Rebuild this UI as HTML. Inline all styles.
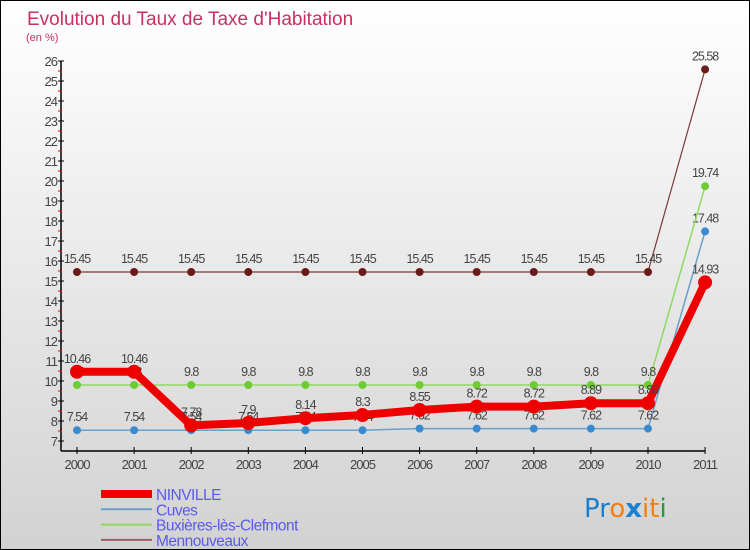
<!DOCTYPE html>
<html><head><meta charset="utf-8"><style>
html,body{margin:0;padding:0}
body{width:750px;height:550px;overflow:hidden;font-family:"Liberation Sans",sans-serif}
#wrap{position:relative;width:748px;height:548px;border:1px solid #000;background:linear-gradient(#ffffff,#d2d2d2)}
</style></head><body>
<div id="wrap">
<svg id="chart" width="748" height="548" style="position:absolute;left:0;top:0">
<text x="26" y="24" font-size="19" fill="#c8305f">Evolution du Taux de Taxe d'Habitation</text>
<text x="25" y="40" font-size="11" fill="#c8305f">(en %)</text>
<g id="axes"></g><g id="series"></g><g id="legend"></g>
<g font-size="26" font-family="'DejaVu Sans',sans-serif">
<text x="583" y="516"><tspan fill="#1a7fd0">Pr</tspan><tspan fill="#f08010">o</tspan><tspan fill="#1a7fd0" font-weight="bold">x</tspan><tspan fill="#f08010">it</tspan><tspan fill="#2a9a3a">i</tspan></text>
</g>
</svg>
</div>
<script>
const years=["2000","2001","2002","2003","2004","2005","2006","2007","2008","2009","2010","2011"];
const ninville=[10.46,10.46,7.78,7.9,8.14,8.3,8.55,8.72,8.72,8.89,8.89,14.93];
const cuves=[7.54,7.54,7.54,7.54,7.54,7.54,7.62,7.62,7.62,7.62,7.62,17.48];
const buxieres=[9.8,9.8,9.8,9.8,9.8,9.8,9.8,9.8,9.8,9.8,9.8,19.74];
const mennouveaux=[15.45,15.45,15.45,15.45,15.45,15.45,15.45,15.45,15.45,15.45,15.45,25.58];
const yTicks=[7,8,9,10,11,12,13,14,15,16,17,18,19,20,21,22,23,24,25,26];
const NS="http://www.w3.org/2000/svg";
function X(i){return 76+i*57.1;}
function Y(v){return 60+(26-v)*20;}
function mk(tag,attrs,parent){const e=document.createElementNS(NS,tag);for(const k in attrs)e.setAttribute(k,attrs[k]);parent.appendChild(e);return e;}
const axes=document.getElementById('axes');
let ya=mk('line',{x1:60,y1:Y(26),x2:60,y2:450,stroke:'#000','stroke-width':1.5},axes);


let xa=mk('line',{x1:60,y1:450,x2:X(11),y2:450,stroke:'#000','stroke-width':1.5},axes);


yTicks.forEach(v=>{
 mk('line',{x1:57,y1:Y(v),x2:63,y2:Y(v),stroke:'#000'},axes);
 if(v<26)mk('line',{x1:57,y1:Y(v+0.5),x2:61,y2:Y(v+0.5),stroke:'#e00'},axes);
 const t=mk('text',{x:56,y:Y(v)+5,'font-size':13,fill:'#444','text-anchor':'end','letter-spacing':'-1'},axes);
 t.textContent=v;
 
 
});
years.forEach((y,i)=>{
 mk('line',{x1:X(i),y1:446,x2:X(i),y2:453,stroke:'#000'},axes);
 const t=mk('text',{x:X(i),y:468,'font-size':13,fill:'#444','text-anchor':'middle','letter-spacing':'-1'},axes);
 t.textContent=y;
 
 
});
const sg=document.getElementById('series');
const defs=[
 {name:'cuves',data:cuves,color:'#3a8ad0',line:'#6aa0c8',w:1.5,r:4},
 {name:'buxieres',data:buxieres,color:'#6ccc30',line:'#90d860',w:1.5,r:4},
 {name:'mennouveaux',data:mennouveaux,color:'#6a1a1a',line:'#7a3a3a',w:1.2,r:4},
 {name:'ninville',data:ninville,color:'#ee0000',line:'#ee0000',w:8,r:7}
];
defs.forEach(s=>{
 const g=mk('g',{},sg);
 
 
 const p=mk('polyline',{points:s.data.map((v,i)=>X(i)+','+Y(v)).join(' '),fill:'none',stroke:s.line,'stroke-width':s.w,'stroke-linejoin':'round'},g);
 
 
 s.data.forEach((v,i)=>{
  const c=mk('circle',{cx:X(i),cy:Y(v),r:s.r,fill:s.color},g);
  
  
  const t=mk('text',{x:X(i),y:Y(v)-9,'font-size':12.5,fill:'#444','text-anchor':'middle','letter-spacing':'-1'},g);
  t.textContent=v;
  
  
 });
});
const lg=document.getElementById('legend');
const leg=[['NINVILLE','#ee0000',8],['Cuves','#6aa0c8',2],['Buxières-lès-Clefmont','#90d860',2],['Mennouveaux','#9a6060',2]];
leg.forEach((l,i)=>{
 const y=493+i*15.3;
 const ln=mk('line',{x1:100,y1:y,x2:151,y2:y,stroke:l[1],'stroke-width':l[2]},lg);
 
 
 const t=mk('text',{x:155,y:y+6,'font-size':15.5,fill:'#5a5aee','letter-spacing':'-0.5'},lg);
 t.textContent=l[0];
 
 
});
</script>
</body></html>
